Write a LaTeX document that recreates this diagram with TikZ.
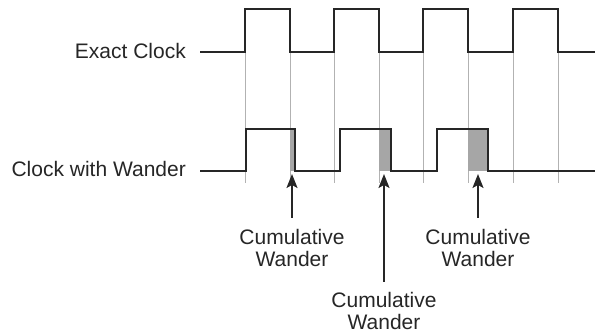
\documentclass[tikz,border=0pt]{standalone}
\usepackage{fontspec}
\setmainfont{Liberation Sans}
\usetikzlibrary{arrows.meta}
\begin{document}
\begin{tikzpicture}[x=1pt,y=-1pt,
  wave/.style={line width=2.4pt,line join=miter,color=black!85},
  grid/.style={line width=0.8pt,color=black!30},
  slip/.style={fill=black!35},
  lbl/.style={font=\fontsize{21}{22.5}\selectfont,text=black!85,inner sep=0pt},
  note/.style={lbl,align=center,anchor=north},
  pointer/.style={line width=1.7pt,color=black!85,-{Stealth[length=14pt,width=11pt,inset=3pt]}}
]
\useasboundingbox (0,0) rectangle (595,336);

% reference edges of the ideal clock
\foreach \x in {245,290,334,379,423,468,513,558}
  \draw[grid] (\x,52) -- (\x,183);

% accumulated phase error between the two clocks
\fill[slip] (290,129) rectangle (295,171);
\fill[slip] (379,129) rectangle (391,171);
\fill[slip] (468,129) rectangle (488,171);

% ideal clock
\draw[wave] (200,52) -- (245,52) -- (245,9) -- (290,9) -- (290,52) -- (334,52)
  -- (334,9) -- (379,9) -- (379,52) -- (423,52) -- (423,9) -- (468,9) -- (468,52)
  -- (513,52) -- (513,9) -- (558,9) -- (558,52) -- (595,52);

% clock drifting away from the ideal one
\draw[wave] (200,171) -- (246,171) -- (246,129) -- (295,129) -- (295,171) -- (340,171)
  -- (340,129) -- (391,129) -- (391,171) -- (437,171) -- (437,129) -- (488,129)
  -- (488,171) -- (595,171);

% signal names
\node[lbl,anchor=base east] (exact) at (186,59) {Exact Clock};
\node[lbl,anchor=base east] (wander) at (186,177) {Clock with Wander};

% annotations
\node[note] (w1) at (292,229) {Cumulative\\Wander};
\node[note] (w2) at (384,292) {Cumulative\\Wander};
\node[note] (w3) at (478,229) {Cumulative\\Wander};
\coordinate (t1) at (292,174);
\coordinate (t2) at (384,174);
\coordinate (t3) at (478,174);
\draw[pointer] ([yshift=11pt]w1.north) -- (t1);
\draw[pointer] ([yshift=10pt]w2.north) -- (t2);
\draw[pointer] ([yshift=11pt]w3.north) -- (t3);
\end{tikzpicture}
\end{document}
